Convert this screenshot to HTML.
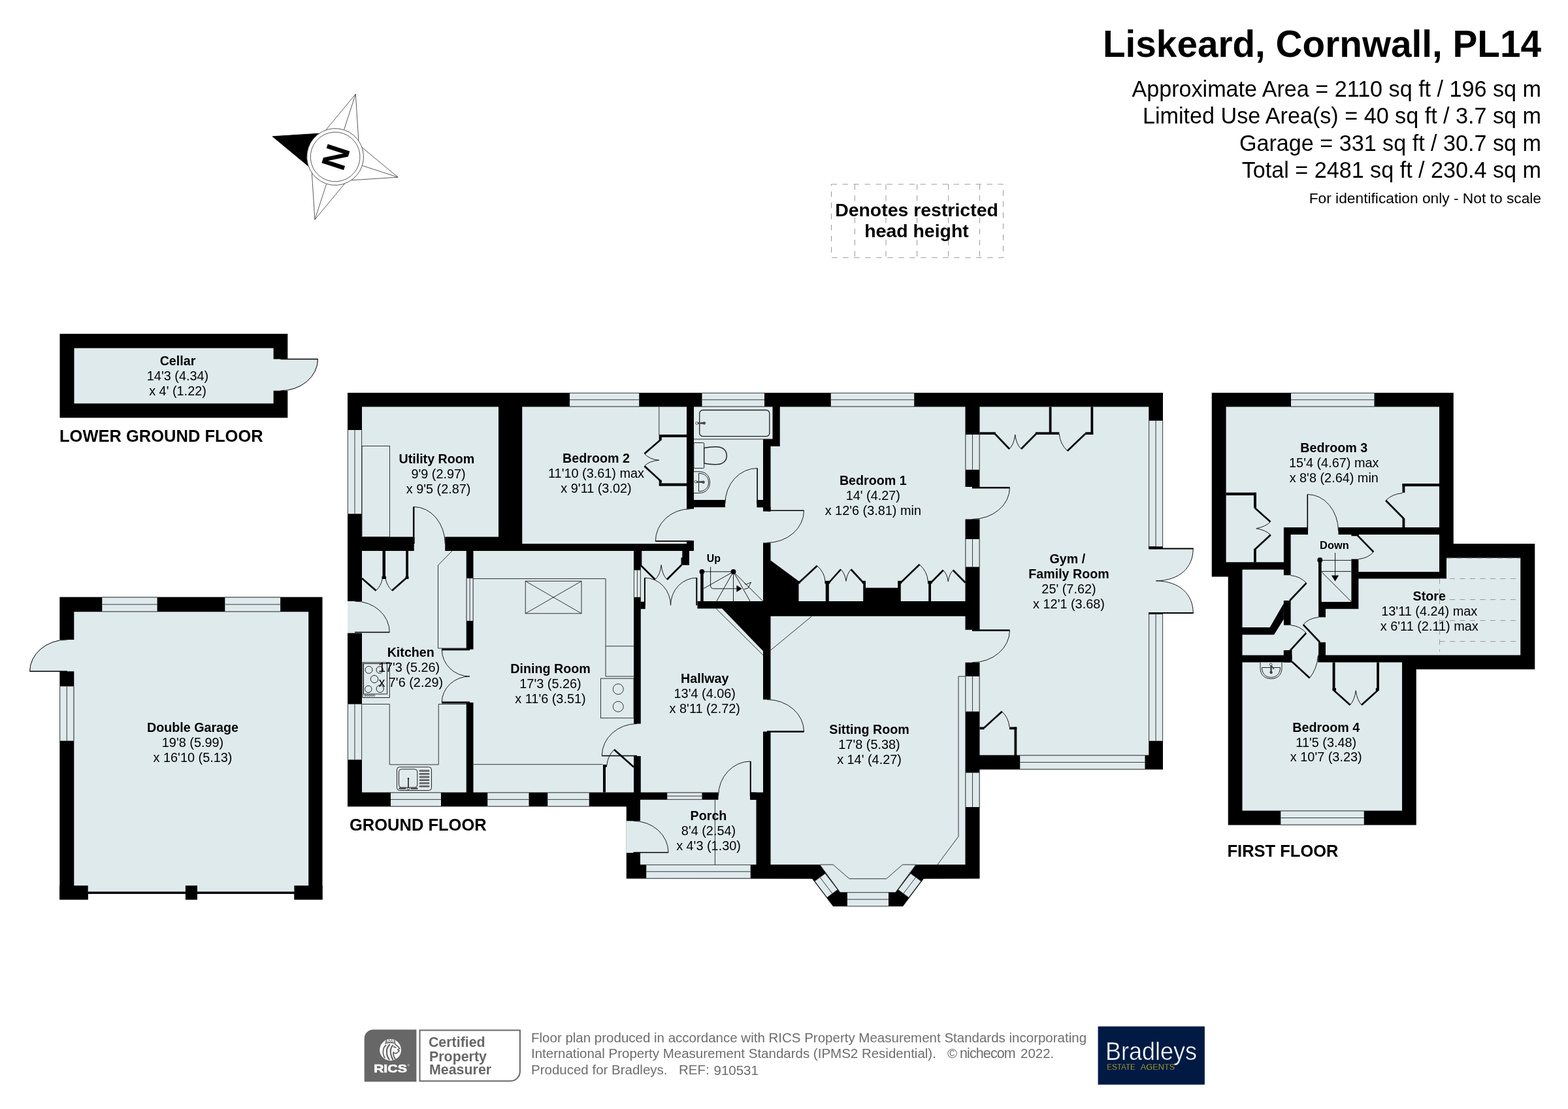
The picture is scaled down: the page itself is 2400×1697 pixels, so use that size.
<!DOCTYPE html>
<html lang="en"><head><meta charset="utf-8"><title>Floor plan - Liskeard, Cornwall, PL14</title>
<style>
html,body{margin:0;padding:0;background:#fff;}
body{width:2400px;height:1697px;overflow:hidden;}
svg{display:block;will-change:transform;font-family:"Liberation Sans",sans-serif;}
</style></head><body>
<svg width="2400" height="1697" viewBox="0 0 2400 1697">
<rect width="2400" height="1697" fill="#fff"/>
<!-- part_head -->
<text x="2359" y="87" font-size="56.7" font-weight="bold" text-anchor="end" fill="#000">Liskeard, Cornwall, PL14</text>
<text x="2359" y="148" font-size="34.15" text-anchor="end" fill="#000">Approximate Area = 2110 sq ft / 196 sq m</text>
<text x="2359" y="189.4" font-size="34.15" text-anchor="end" fill="#000">Limited Use Area(s) = 40 sq ft / 3.7 sq m</text>
<text x="2359" y="230.8" font-size="34.15" text-anchor="end" fill="#000">Garage = 331 sq ft / 30.7 sq m</text>
<text x="2359" y="272.2" font-size="34.15" text-anchor="end" fill="#000">Total = 2481 sq ft / 230.4 sq m</text>
<text x="2359" y="311" font-size="22.75" text-anchor="end" fill="#000">For identification only - Not to scale</text>
<g transform="translate(513.1,240) rotate(-72)">
<polygon transform="rotate(0)" points="0,-101 26.42,-34.43 0,0 -26.42,-34.43" fill="#000" stroke="#000" stroke-width="0.8"/>
<g transform="rotate(90)" fill="none" stroke="#444" stroke-width="0.8"><polyline points="26.42,-34.43 0,-101 -26.42,-34.43"/><line x1="0" y1="-101" x2="0" y2="-43.4"/></g>
<g transform="rotate(180)" fill="none" stroke="#444" stroke-width="0.8"><polyline points="26.42,-34.43 0,-101 -26.42,-34.43"/><line x1="0" y1="-101" x2="0" y2="-43.4"/></g>
<g transform="rotate(270)" fill="none" stroke="#444" stroke-width="0.8"><polyline points="26.42,-34.43 0,-101 -26.42,-34.43"/><line x1="0" y1="-101" x2="0" y2="-43.4"/></g>
<circle r="43.4" fill="#fff" stroke="#444" stroke-width="0.8"/>
<circle r="37.9" fill="#fff" stroke="#444" stroke-width="0.8"/>
<text x="0" y="18.5" font-size="51.5" font-weight="bold" text-anchor="middle" fill="#000">N</text>
</g>
<rect x="1272.5" y="282" width="263" height="112.2" fill="none" stroke="#999" stroke-width="1" stroke-dasharray="8.5,8.5"/>
<line x1="1308.3" y1="282" x2="1308.3" y2="394.2" stroke="#999" stroke-width="1" stroke-dasharray="8.5,8.5"/>
<line x1="1356" y1="282" x2="1356" y2="394.2" stroke="#999" stroke-width="1" stroke-dasharray="8.5,8.5"/>
<line x1="1403.6" y1="282" x2="1403.6" y2="394.2" stroke="#999" stroke-width="1" stroke-dasharray="8.5,8.5"/>
<line x1="1451.6" y1="282" x2="1451.6" y2="394.2" stroke="#999" stroke-width="1" stroke-dasharray="8.5,8.5"/>
<line x1="1499.5" y1="282" x2="1499.5" y2="394.2" stroke="#999" stroke-width="1" stroke-dasharray="8.5,8.5"/>
<text x="1403" y="331.2" font-size="28.45" font-weight="bold" text-anchor="middle" fill="#000">Denotes restricted</text>
<text x="1403" y="363" font-size="28.45" font-weight="bold" text-anchor="middle" fill="#000">head height</text>
<!-- part_small -->
<path d="M429.5,549.5 L486.4,549.5 A56.9,48.3 0 0 1 429.5,597.8 Z" fill="#dfeaed" stroke="none"/>
<path d="M486.4,549.5 A56.9,48.3 0 0 1 429.5,597.8" fill="none" stroke="#1a1a1a" stroke-width="1"/>
<line x1="429.5" y1="549.5" x2="486.4" y2="549.5" stroke="#000" stroke-width="1.2"/>
<rect x="91.5" y="510.8" width="348.8" height="128.5" fill="#000"/>
<rect x="113.5" y="532.7" width="305.1" height="84.7" fill="#dfeaed"/>
<rect x="417" y="549.5" width="24.5" height="48.3" fill="#dfeaed"/>
<path d="M429.5,549.5 L486.4,549.5 A56.9,48.3 0 0 1 429.5,597.8 Z" fill="#dfeaed" stroke="none"/>
<path d="M486.4,549.5 A56.9,48.3 0 0 1 429.5,597.8" fill="none" stroke="#1a1a1a" stroke-width="1"/>
<line x1="429.5" y1="549.5" x2="486.4" y2="549.5" stroke="#000" stroke-width="1.6"/>
<text x="272" y="559.1" font-size="19.7" font-weight="bold" text-anchor="middle" fill="#000">Cellar</text>
<text x="272" y="581.9" font-size="19.87" text-anchor="middle" fill="#000">14'3 (4.34)</text>
<text x="272" y="604.7" font-size="19.87" text-anchor="middle" fill="#000">x 4' (1.22)</text>
<text x="91" y="675.8" font-size="25.5" font-weight="bold" text-anchor="start" fill="#000">LOWER GROUND FLOOR</text>
<path d="M102.9,1027.3 L45.7,1027.3 A57.2,48.4 0 0 1 102.9,978.9 Z" fill="#dfeaed" stroke="none"/>
<path d="M45.7,1027.3 A57.2,48.4 0 0 1 102.9,978.9" fill="none" stroke="#1a1a1a" stroke-width="1"/>
<line x1="102.9" y1="1027.3" x2="45.7" y2="1027.3" stroke="#000" stroke-width="1.2"/>
<rect x="91.3" y="913.6" width="402.2" height="462.9" fill="#000"/>
<rect x="113.3" y="936.2" width="358.9" height="429.8" fill="#dfeaed"/>
<rect x="134.6" y="1367.6" width="149.4" height="10" fill="#fff"/>
<rect x="301.8" y="1367.6" width="148.7" height="10" fill="#fff"/>
<rect x="134.6" y="1355.1" width="149.4" height="9.5" fill="#dfeaed"/>
<rect x="301.8" y="1355.1" width="148.7" height="9.5" fill="#dfeaed"/>
<rect x="134.6" y="1364.4" width="149.4" height="3.3" fill="#000"/>
<rect x="301.8" y="1364.4" width="148.7" height="3.3" fill="#000"/>
<rect x="283.9" y="1355.1" width="18.1" height="21.4" fill="#000"/>
<rect x="91.3" y="1355.1" width="43.4" height="21.4" fill="#000"/>
<rect x="450.4" y="1355.1" width="43.1" height="21.4" fill="#000"/>
<rect x="156.3" y="913.6" width="84.3" height="22.6" fill="#dfeaed"/>
<line x1="156.3" y1="914" x2="240.6" y2="914" stroke="#3a3a3a" stroke-width="1"/>
<line x1="156.3" y1="924.9" x2="240.6" y2="924.9" stroke="#3a3a3a" stroke-width="1"/>
<line x1="156.3" y1="935.8" x2="240.6" y2="935.8" stroke="#3a3a3a" stroke-width="1"/>
<rect x="344.3" y="913.6" width="84.8" height="22.6" fill="#dfeaed"/>
<line x1="344.3" y1="914" x2="429.1" y2="914" stroke="#3a3a3a" stroke-width="1"/>
<line x1="344.3" y1="924.9" x2="429.1" y2="924.9" stroke="#3a3a3a" stroke-width="1"/>
<line x1="344.3" y1="935.8" x2="429.1" y2="935.8" stroke="#3a3a3a" stroke-width="1"/>
<rect x="91.3" y="1050.3" width="22" height="83.3" fill="#dfeaed"/>
<line x1="91.7" y1="1050.3" x2="91.7" y2="1133.6" stroke="#3a3a3a" stroke-width="1"/>
<line x1="102.3" y1="1050.3" x2="102.3" y2="1133.6" stroke="#3a3a3a" stroke-width="1"/>
<line x1="112.9" y1="1050.3" x2="112.9" y2="1133.6" stroke="#3a3a3a" stroke-width="1"/>
<rect x="90.8" y="978.9" width="24" height="48.4" fill="#dfeaed"/>
<path d="M102.9,1027.3 L45.7,1027.3 A57.2,48.4 0 0 1 102.9,978.9 Z" fill="#dfeaed" stroke="none"/>
<path d="M45.7,1027.3 A57.2,48.4 0 0 1 102.9,978.9" fill="none" stroke="#1a1a1a" stroke-width="1"/>
<line x1="102.9" y1="1027.3" x2="45.7" y2="1027.3" stroke="#000" stroke-width="1.6"/>
<text x="295" y="1120.4" font-size="19.7" font-weight="bold" text-anchor="middle" fill="#000">Double Garage</text>
<text x="295" y="1143.2" font-size="19.87" text-anchor="middle" fill="#000">19'8 (5.99)</text>
<text x="295" y="1166" font-size="19.87" text-anchor="middle" fill="#000">x 16'10 (5.13)</text>
<!-- part_ground -->
<path d="M1769,840 L1826.2,840 C1826.2,868 1806,888.5 1769,888.7 C1806,889 1826.2,910 1826.2,937.5 L1769,937.5 Z" fill="#dfeaed"/>
<polygon points="532,601 1780,601 1780,1177.5 1499.5,1177.5 1499.5,1344.5 1413.8,1344.7 1382,1387.1 1275.1,1387.1 1243.1,1344.7 958.75,1344.5 958.75,1234.25 532,1234.25" fill="#000"/>
<rect x="554" y="622.5" width="209" height="199" fill="#dfeaed"/>
<rect x="799.25" y="622.5" width="251.75" height="209.5" fill="#dfeaed"/>
<polygon points="1062,622.5 1182.5,622.5 1182.5,672 1168,672 1168,765 1062,765" fill="#dfeaed"/>
<polygon points="1193.75,622.5 1477.5,622.5 1477.5,920 1222.5,920 1222.5,889.25 1179.5,857.5 1179.5,683 1193.75,683" fill="#dfeaed"/>
<rect x="1499.5" y="622.5" width="258.75" height="533" fill="#dfeaed"/>
<rect x="554" y="843" width="159.75" height="369.5" fill="#dfeaed"/>
<rect x="724.5" y="843" width="245.5" height="369.5" fill="#dfeaed"/>
<polygon points="980.75,843 1062,843 1062,776.25 1168,776.25 1168,1212.5 980.75,1212.5" fill="#dfeaed"/>
<polygon points="1179.5,943 1477.5,943 1477.5,1323 1402,1323 1370.9,1365.3 1285.75,1365.3 1254.8,1323 1179.5,1323" fill="#dfeaed"/>
<rect x="980" y="1223.75" width="177.5" height="99.25" fill="#dfeaed"/>
<rect x="1321.25" y="899.5" width="57.5" height="20.5" fill="#000"/>
<rect x="1066" y="920" width="102" height="11.25" fill="#000"/>
<polygon points="1105,931 1168,931 1168,996.25" fill="#000"/>
<rect x="633.75" y="820" width="47.5" height="24.5" fill="#dfeaed"/>
<rect x="532" y="920" width="23.5" height="48.75" fill="#dfeaed"/>
<rect x="712.25" y="993.75" width="13.75" height="81.25" fill="#dfeaed"/>
<rect x="968.5" y="1107.5" width="13.75" height="49.5" fill="#dfeaed"/>
<rect x="1049.5" y="778.75" width="14" height="48.75" fill="#dfeaed"/>
<rect x="1110" y="763.5" width="48.75" height="14.25" fill="#dfeaed"/>
<rect x="1166.5" y="782.5" width="14.5" height="48" fill="#dfeaed"/>
<rect x="1476" y="745" width="25" height="49.5" fill="#dfeaed"/>
<rect x="1476" y="963.75" width="25" height="50" fill="#dfeaed"/>
<rect x="1166.5" y="1070.5" width="14.5" height="49" fill="#dfeaed"/>
<rect x="1099.5" y="1211" width="49.25" height="14.25" fill="#dfeaed"/>
<rect x="958.75" y="1256.25" width="22.75" height="48.75" fill="#dfeaed"/>
<rect x="1756.75" y="840" width="24.25" height="97.5" fill="#dfeaed"/>
<rect x="987" y="918.5" width="80.5" height="14.25" fill="#dfeaed"/>
<rect x="532" y="658" width="22" height="128.25" fill="#dfeaed"/>
<line x1="532.4" y1="658" x2="532.4" y2="786.25" stroke="#3a3a3a" stroke-width="1"/>
<line x1="543" y1="658" x2="543" y2="786.25" stroke="#3a3a3a" stroke-width="1"/>
<line x1="553.6" y1="658" x2="553.6" y2="786.25" stroke="#3a3a3a" stroke-width="1"/>
<rect x="532" y="1077.5" width="22" height="85" fill="#dfeaed"/>
<line x1="532.4" y1="1077.5" x2="532.4" y2="1162.5" stroke="#3a3a3a" stroke-width="1"/>
<line x1="543" y1="1077.5" x2="543" y2="1162.5" stroke="#3a3a3a" stroke-width="1"/>
<line x1="553.6" y1="1077.5" x2="553.6" y2="1162.5" stroke="#3a3a3a" stroke-width="1"/>
<rect x="872" y="601" width="106.25" height="21.5" fill="#dfeaed"/>
<line x1="872" y1="601.4" x2="978.25" y2="601.4" stroke="#3a3a3a" stroke-width="1"/>
<line x1="872" y1="611.75" x2="978.25" y2="611.75" stroke="#3a3a3a" stroke-width="1"/>
<line x1="872" y1="622.1" x2="978.25" y2="622.1" stroke="#3a3a3a" stroke-width="1"/>
<rect x="1074.5" y="601" width="95.5" height="21.5" fill="#dfeaed"/>
<line x1="1074.5" y1="601.4" x2="1170" y2="601.4" stroke="#3a3a3a" stroke-width="1"/>
<line x1="1074.5" y1="611.75" x2="1170" y2="611.75" stroke="#3a3a3a" stroke-width="1"/>
<line x1="1074.5" y1="622.1" x2="1170" y2="622.1" stroke="#3a3a3a" stroke-width="1"/>
<rect x="1271.75" y="601" width="127.5" height="21.5" fill="#dfeaed"/>
<line x1="1271.75" y1="601.4" x2="1399.25" y2="601.4" stroke="#3a3a3a" stroke-width="1"/>
<line x1="1271.75" y1="611.75" x2="1399.25" y2="611.75" stroke="#3a3a3a" stroke-width="1"/>
<line x1="1271.75" y1="622.1" x2="1399.25" y2="622.1" stroke="#3a3a3a" stroke-width="1"/>
<rect x="598" y="1212.5" width="77" height="21.75" fill="#dfeaed"/>
<line x1="598" y1="1212.9" x2="675" y2="1212.9" stroke="#3a3a3a" stroke-width="1"/>
<line x1="598" y1="1223.38" x2="675" y2="1223.38" stroke="#3a3a3a" stroke-width="1"/>
<line x1="598" y1="1233.85" x2="675" y2="1233.85" stroke="#3a3a3a" stroke-width="1"/>
<rect x="746.25" y="1212.5" width="63.25" height="21.75" fill="#dfeaed"/>
<line x1="746.25" y1="1212.9" x2="809.5" y2="1212.9" stroke="#3a3a3a" stroke-width="1"/>
<line x1="746.25" y1="1223.38" x2="809.5" y2="1223.38" stroke="#3a3a3a" stroke-width="1"/>
<line x1="746.25" y1="1233.85" x2="809.5" y2="1233.85" stroke="#3a3a3a" stroke-width="1"/>
<rect x="838.25" y="1212.5" width="63.5" height="21.75" fill="#dfeaed"/>
<line x1="838.25" y1="1212.9" x2="901.75" y2="1212.9" stroke="#3a3a3a" stroke-width="1"/>
<line x1="838.25" y1="1223.38" x2="901.75" y2="1223.38" stroke="#3a3a3a" stroke-width="1"/>
<line x1="838.25" y1="1233.85" x2="901.75" y2="1233.85" stroke="#3a3a3a" stroke-width="1"/>
<rect x="1021.25" y="1212.5" width="53.25" height="11.25" fill="#dfeaed"/>
<line x1="1021.25" y1="1212.9" x2="1074.5" y2="1212.9" stroke="#3a3a3a" stroke-width="1"/>
<line x1="1021.25" y1="1218.12" x2="1074.5" y2="1218.12" stroke="#3a3a3a" stroke-width="1"/>
<line x1="1021.25" y1="1223.35" x2="1074.5" y2="1223.35" stroke="#3a3a3a" stroke-width="1"/>
<rect x="989.25" y="1323" width="159.5" height="21.5" fill="#dfeaed"/>
<line x1="989.25" y1="1323.4" x2="1148.75" y2="1323.4" stroke="#3a3a3a" stroke-width="1"/>
<line x1="989.25" y1="1333.75" x2="1148.75" y2="1333.75" stroke="#3a3a3a" stroke-width="1"/>
<line x1="989.25" y1="1344.1" x2="1148.75" y2="1344.1" stroke="#3a3a3a" stroke-width="1"/>
<rect x="1477.5" y="1035" width="22" height="53.75" fill="#dfeaed"/>
<line x1="1477.9" y1="1035" x2="1477.9" y2="1088.75" stroke="#3a3a3a" stroke-width="1"/>
<line x1="1488.5" y1="1035" x2="1488.5" y2="1088.75" stroke="#3a3a3a" stroke-width="1"/>
<line x1="1499.1" y1="1035" x2="1499.1" y2="1088.75" stroke="#3a3a3a" stroke-width="1"/>
<rect x="1477.5" y="1182.5" width="22" height="52.5" fill="#dfeaed"/>
<line x1="1477.9" y1="1182.5" x2="1477.9" y2="1235" stroke="#3a3a3a" stroke-width="1"/>
<line x1="1488.5" y1="1182.5" x2="1488.5" y2="1235" stroke="#3a3a3a" stroke-width="1"/>
<line x1="1499.1" y1="1182.5" x2="1499.1" y2="1235" stroke="#3a3a3a" stroke-width="1"/>
<rect x="1477.5" y="665" width="22" height="53.75" fill="#dfeaed"/>
<line x1="1477.9" y1="665" x2="1477.9" y2="718.75" stroke="#3a3a3a" stroke-width="1"/>
<line x1="1488.5" y1="665" x2="1488.5" y2="718.75" stroke="#3a3a3a" stroke-width="1"/>
<line x1="1499.1" y1="665" x2="1499.1" y2="718.75" stroke="#3a3a3a" stroke-width="1"/>
<rect x="1477.5" y="825" width="22" height="42.5" fill="#dfeaed"/>
<line x1="1477.9" y1="825" x2="1477.9" y2="867.5" stroke="#3a3a3a" stroke-width="1"/>
<line x1="1488.5" y1="825" x2="1488.5" y2="867.5" stroke="#3a3a3a" stroke-width="1"/>
<line x1="1499.1" y1="825" x2="1499.1" y2="867.5" stroke="#3a3a3a" stroke-width="1"/>
<rect x="1758.25" y="643.75" width="21.75" height="192.5" fill="#dfeaed"/>
<line x1="1758.65" y1="643.75" x2="1758.65" y2="836.25" stroke="#3a3a3a" stroke-width="1"/>
<line x1="1769.12" y1="643.75" x2="1769.12" y2="836.25" stroke="#3a3a3a" stroke-width="1"/>
<line x1="1779.6" y1="643.75" x2="1779.6" y2="836.25" stroke="#3a3a3a" stroke-width="1"/>
<rect x="1758.25" y="940" width="21.75" height="193.75" fill="#dfeaed"/>
<line x1="1758.65" y1="940" x2="1758.65" y2="1133.75" stroke="#3a3a3a" stroke-width="1"/>
<line x1="1769.12" y1="940" x2="1769.12" y2="1133.75" stroke="#3a3a3a" stroke-width="1"/>
<line x1="1779.6" y1="940" x2="1779.6" y2="1133.75" stroke="#3a3a3a" stroke-width="1"/>
<rect x="1561.25" y="1155.5" width="191.25" height="22" fill="#dfeaed"/>
<line x1="1561.25" y1="1155.9" x2="1752.5" y2="1155.9" stroke="#3a3a3a" stroke-width="1"/>
<line x1="1561.25" y1="1166.5" x2="1752.5" y2="1166.5" stroke="#3a3a3a" stroke-width="1"/>
<line x1="1561.25" y1="1177.1" x2="1752.5" y2="1177.1" stroke="#3a3a3a" stroke-width="1"/>
<rect x="713.75" y="885" width="10.75" height="65" fill="#dfeaed"/>
<line x1="714.15" y1="885" x2="714.15" y2="950" stroke="#3a3a3a" stroke-width="1"/>
<line x1="719.12" y1="885" x2="719.12" y2="950" stroke="#3a3a3a" stroke-width="1"/>
<line x1="724.1" y1="885" x2="724.1" y2="950" stroke="#3a3a3a" stroke-width="1"/>
<rect x="970" y="872.5" width="10.75" height="41.25" fill="#dfeaed"/>
<line x1="970.4" y1="872.5" x2="970.4" y2="913.75" stroke="#3a3a3a" stroke-width="1"/>
<line x1="975.38" y1="872.5" x2="975.38" y2="913.75" stroke="#3a3a3a" stroke-width="1"/>
<line x1="980.35" y1="872.5" x2="980.35" y2="913.75" stroke="#3a3a3a" stroke-width="1"/>
<polygon points="1263.1,1336.6 1282.1,1361.4 1265.9,1373.4 1247,1348.3" fill="#dfeaed" stroke="#333" stroke-width="1"/>
<line x1="1255.05" y1="1342.45" x2="1274" y2="1367.4" stroke="#333" stroke-width="1"/>
<polygon points="1393.7,1336.6 1374.7,1361.4 1390.9,1373.4 1409.8,1348.3" fill="#dfeaed" stroke="#333" stroke-width="1"/>
<line x1="1401.75" y1="1342.45" x2="1382.8" y2="1367.4" stroke="#333" stroke-width="1"/>
<rect x="1296.9" y="1365.3" width="63.1" height="21.8" fill="#dfeaed"/>
<line x1="1296.9" y1="1365.7" x2="1360" y2="1365.7" stroke="#3a3a3a" stroke-width="1"/>
<line x1="1296.9" y1="1376.2" x2="1360" y2="1376.2" stroke="#3a3a3a" stroke-width="1"/>
<line x1="1296.9" y1="1386.7" x2="1360" y2="1386.7" stroke="#3a3a3a" stroke-width="1"/>
<polyline points="1254.8,1323.1 1275.1,1323.1 1300.1,1344.7 1356.7,1344.7 1381.6,1323.1 1402,1323.1" fill="none" stroke="#333" stroke-width="1"/>
<line x1="1254.8" y1="1323.1" x2="1285.75" y2="1365.3" stroke="#333" stroke-width="1"/>
<line x1="1402" y1="1323.1" x2="1370.9" y2="1365.3" stroke="#333" stroke-width="1"/>
<rect x="554" y="682.5" width="42.5" height="139" fill="none" stroke="#333" stroke-width="1"/>
<polyline points="692,843 670.5,865 670.5,992 713.75,992" fill="none" stroke="#333" stroke-width="1"/>
<polyline points="554,1077.5 596.25,1077.5 596.25,1170 671.25,1170 671.25,1077.5 713.75,1077.5" fill="none" stroke="#333" stroke-width="1"/>
<polyline points="724.5,885.5 927,885.5 927,1035" fill="none" stroke="#333" stroke-width="1"/>
<line x1="724.5" y1="1169.7" x2="922.5" y2="1169.7" stroke="#333" stroke-width="1"/>
<polyline points="927,1035 970,1035" fill="none" stroke="#333" stroke-width="1"/>
<line x1="927" y1="988.75" x2="970" y2="988.75" stroke="#333" stroke-width="1"/>
<rect x="919.5" y="1038.25" width="50.5" height="60.5" fill="none" stroke="#333" stroke-width="1"/>
<circle cx="946.25" cy="1054.5" r="8" fill="none" stroke="#333" stroke-width="1"/>
<circle cx="946.25" cy="1081.25" r="8" fill="none" stroke="#333" stroke-width="1"/>
<rect x="804.25" y="889.25" width="85.75" height="49.5" fill="none" stroke="#333" stroke-width="1"/>
<line x1="804.25" y1="889.25" x2="890" y2="938.75" stroke="#333" stroke-width="1"/>
<line x1="804.25" y1="938.75" x2="890" y2="889.25" stroke="#333" stroke-width="1"/>
<polyline points="1477.5,1035 1467,1035 1467,1280 1435,1323" fill="none" stroke="#333" stroke-width="1"/>
<line x1="1242.5" y1="943" x2="1179.5" y2="995" stroke="#333" stroke-width="1"/>
<line x1="1096" y1="931.25" x2="1168" y2="1002.5" stroke="#333" stroke-width="1"/>
<line x1="1094.4" y1="1223.75" x2="1094.4" y2="1323" stroke="#333" stroke-width="1"/>
<line x1="1062" y1="672" x2="1182.5" y2="672" stroke="#333" stroke-width="1"/>
<line x1="1008.75" y1="622.5" x2="1008.75" y2="665" stroke="#333" stroke-width="1"/>
<!-- part_ground2 -->
<path d="M633.2,775.5 A48.05,56.5 0 0 1 681.25,832" fill="none" stroke="#1a1a1a" stroke-width="1"/>
<line x1="633.2" y1="832" x2="633.2" y2="775.5" stroke="#000" stroke-width="2.5"/>
<rect x="631.9" y="821.5" width="2.55" height="10.5" fill="#000"/>
<rect x="631.5" y="832" width="1.1" height="11" fill="#000"/>
<path d="M596.25,967.5 A53.25,47.5 0 0 0 543,920" fill="none" stroke="#1a1a1a" stroke-width="1"/>
<line x1="543" y1="967.5" x2="596.25" y2="967.5" stroke="#000" stroke-width="1.7"/>
<path d="M676.25,993.75 A42.75,41.25 0 0 0 719,1035" fill="none" stroke="#1a1a1a" stroke-width="1"/>
<line x1="719" y1="993.75" x2="676.25" y2="993.75" stroke="#000" stroke-width="3"/>
<path d="M676.25,1075 A42.75,40 0 0 1 719,1035" fill="none" stroke="#1a1a1a" stroke-width="1"/>
<line x1="719" y1="1075" x2="676.25" y2="1075" stroke="#000" stroke-width="3"/>
<path d="M921.25,1156.5 A53.75,49 0 0 1 975,1107.5" fill="none" stroke="#1a1a1a" stroke-width="1"/>
<line x1="975" y1="1156.5" x2="921.25" y2="1156.5" stroke="#000" stroke-width="1.7"/>
<path d="M1003.3,828.2 A53.3,49.45 0 0 1 1056.6,778.75" fill="none" stroke="#1a1a1a" stroke-width="1"/>
<line x1="1056.6" y1="828.2" x2="1003.3" y2="828.2" stroke="#000" stroke-width="1.7"/>
<rect x="1051" y="827.5" width="11" height="15.5" fill="#000"/>
<path d="M1159.1,716.5 A49.2,54 0 0 0 1109.9,770.5" fill="none" stroke="#1a1a1a" stroke-width="1"/>
<line x1="1159.1" y1="770.5" x2="1159.1" y2="716.5" stroke="#000" stroke-width="1.6"/>
<rect x="1158.5" y="765" width="10" height="11.25" fill="#000"/>
<path d="M1230.5,781.25 A56.5,49.25 0 0 1 1174,830.5" fill="none" stroke="#1a1a1a" stroke-width="1"/>
<line x1="1174" y1="781.25" x2="1230.5" y2="781.25" stroke="#000" stroke-width="1.7"/>
<rect x="1173.75" y="776" width="5.75" height="6.5" fill="#000"/>
<path d="M1545.5,746.25 A57.5,48.25 0 0 1 1488,794.5" fill="none" stroke="#1a1a1a" stroke-width="1"/>
<line x1="1488" y1="746.25" x2="1545.5" y2="746.25" stroke="#000" stroke-width="2.5"/>
<path d="M1545.5,964.5 A57.5,49.25 0 0 1 1488,1013.75" fill="none" stroke="#1a1a1a" stroke-width="1"/>
<line x1="1488" y1="964.5" x2="1545.5" y2="964.5" stroke="#000" stroke-width="2.5"/>
<path d="M1230.5,1119.5 A56.5,49 0 0 0 1174,1070.5" fill="none" stroke="#1a1a1a" stroke-width="1"/>
<line x1="1174" y1="1119.5" x2="1230.5" y2="1119.5" stroke="#000" stroke-width="2.5"/>
<path d="M1148.75,1165 A49.25,53 0 0 0 1099.5,1218" fill="none" stroke="#1a1a1a" stroke-width="1"/>
<line x1="1148.75" y1="1218" x2="1148.75" y2="1165" stroke="#000" stroke-width="2"/>
<rect x="1148" y="1212.5" width="9.5" height="11.25" fill="#000"/>
<path d="M1023,1304.5 A53.5,48.25 0 0 0 969.5,1256.25" fill="none" stroke="#1a1a1a" stroke-width="1"/>
<line x1="969.5" y1="1304.5" x2="1023" y2="1304.5" stroke="#000" stroke-width="1.7"/>
<path d="M1826.2,840 C1826.2,868 1806,888.5 1769.3,888.8" fill="none" stroke="#1a1a1a" stroke-width="1"/>
<path d="M1826.2,937.5 C1826.2,910 1806,889.2 1769.3,888.8" fill="none" stroke="#1a1a1a" stroke-width="1"/>
<line x1="1769" y1="839.6" x2="1826.7" y2="839.6" stroke="#000" stroke-width="2"/>
<line x1="1769" y1="938" x2="1826.7" y2="938" stroke="#000" stroke-width="2"/>
<rect x="1758.25" y="836.25" width="11.25" height="4.25" fill="#000"/>
<rect x="1758.25" y="937" width="11.25" height="3" fill="#000"/>
<path d="M986.9,884.2 A39.6,42.1 0 0 1 1026.5,926.3" fill="none" stroke="#1a1a1a" stroke-width="1"/>
<line x1="986.9" y1="926.3" x2="986.9" y2="884.2" stroke="#000" stroke-width="2"/>
<path d="M1066.3,884.2 A39.8,42.1 0 0 0 1026.5,926.3" fill="none" stroke="#1a1a1a" stroke-width="1"/>
<line x1="1066.3" y1="926.3" x2="1066.3" y2="884.2" stroke="#000" stroke-width="2"/>
<rect x="980.5" y="920.7" width="7.2" height="11.1" fill="#000"/>
<rect x="980.5" y="842.8" width="1.8" height="22.2" fill="#000"/>
<rect x="1044.3" y="842.8" width="10.7" height="21.7" fill="#000"/>
<rect x="1042.5" y="853.3" width="12.5" height="11.2" fill="#000"/>
<polyline points="980.8,865.1 1002.7,886.7" fill="none" stroke="#000" stroke-width="2.7" stroke-linejoin="miter"/>
<polyline points="1043.1,864.5 1020.9,886.7" fill="none" stroke="#000" stroke-width="2.7" stroke-linejoin="miter"/>
<path d="M1002.7,886.7 Q1010.5,880 1012.1,864.5" fill="none" stroke="#1a1a1a" stroke-width="1"/>
<path d="M1020.9,886.7 Q1013.7,880 1012.1,864.5" fill="none" stroke="#1a1a1a" stroke-width="1"/>
<line x1="1074.4" y1="874.8" x2="1122.5" y2="874.8" stroke="#1a1a1a" stroke-width="1"/>
<line x1="1122.5" y1="874.8" x2="1076.7" y2="900.8" stroke="#1a1a1a" stroke-width="1"/>
<line x1="1122.5" y1="874.8" x2="1096.4" y2="920.7" stroke="#1a1a1a" stroke-width="1"/>
<line x1="1122.5" y1="874.8" x2="1122.5" y2="920.7" stroke="#1a1a1a" stroke-width="1"/>
<line x1="1122.5" y1="874.8" x2="1148.5" y2="920.7" stroke="#1a1a1a" stroke-width="1"/>
<line x1="1122.5" y1="874.8" x2="1168" y2="920.3" stroke="#1a1a1a" stroke-width="1"/>
<rect x="1072.2" y="875" width="4.5" height="46" fill="#000"/>
<circle cx="1074.4" cy="874.8" r="3.9" fill="#000" stroke="#000" stroke-width="0"/>
<circle cx="1122.5" cy="874.8" r="3.9" fill="#000" stroke="#000" stroke-width="0"/>
<path d="M1087.6,867.4 L1087.6,896 Q1087.6,900.8 1092.4,900.8 L1128,900.8" fill="none" stroke="#1a1a1a" stroke-width="1"/>
<polygon points="1127.4,895.5 1127.4,906 1135.6,900.8" fill="#000"/>
<polyline points="1139,901.5 1145,900 1149.6,891 1141.5,894.5 1139.5,892.5" fill="none" stroke="#1a1a1a" stroke-width="1"/>
<text x="1092.3" y="860" font-size="15.9" font-weight="bold" text-anchor="middle" fill="#000">Up</text>
<rect x="1008.7" y="665" width="42.5" height="4.1" fill="#000"/>
<rect x="1008.7" y="669" width="4.1" height="5" fill="#000"/>
<rect x="1008.7" y="739.5" width="42.5" height="4.2" fill="#000"/>
<rect x="1008.7" y="734.6" width="4.1" height="5" fill="#000"/>
<polyline points="1010.7,673.2 986.4,694.2" fill="none" stroke="#000" stroke-width="2.7" stroke-linejoin="miter"/>
<polyline points="1010.7,735.5 986.4,713.3" fill="none" stroke="#000" stroke-width="2.7" stroke-linejoin="miter"/>
<path d="M986.4,694.2 Q994,703 1008.7,704.2" fill="none" stroke="#1a1a1a" stroke-width="1"/>
<path d="M986.4,713.3 Q993,705.5 1008.7,704.2" fill="none" stroke="#1a1a1a" stroke-width="1"/>
<rect x="1263.75" y="889.25" width="5" height="31.25" fill="#000"/>
<rect x="1262.45" y="888.8" width="7.9" height="4.4" fill="#000"/>
<rect x="1421.25" y="889.25" width="3.75" height="31.25" fill="#000"/>
<rect x="1419.95" y="888.8" width="6.65" height="4.4" fill="#000"/>
<rect x="1321.25" y="889.25" width="3.75" height="10.75" fill="#000"/>
<rect x="1374.25" y="889.25" width="4.5" height="10.75" fill="#000"/>
<rect x="1319.8" y="888.8" width="5.2" height="4.4" fill="#000"/>
<rect x="1374.25" y="888.8" width="5.75" height="4.4" fill="#000"/>
<rect x="1222" y="889" width="2.6" height="4.2" fill="#000"/>
<polyline points="1223,891.5 1250.75,865.75" fill="none" stroke="#000" stroke-width="2.6" stroke-linejoin="miter"/>
<path d="M1250.75,865.75 Q1262,876 1263,889.25" fill="none" stroke="#1a1a1a" stroke-width="1"/>
<polyline points="1268.75,891.5 1287,871.25" fill="none" stroke="#000" stroke-width="2.6" stroke-linejoin="miter"/>
<polyline points="1321.25,891.5 1302.5,871.25" fill="none" stroke="#000" stroke-width="2.6" stroke-linejoin="miter"/>
<path d="M1287,871.25 Q1293.5,878 1295,889.25" fill="none" stroke="#1a1a1a" stroke-width="1"/>
<path d="M1302.5,871.25 Q1296.5,878 1295,889.25" fill="none" stroke="#1a1a1a" stroke-width="1"/>
<polyline points="1378.75,891.5 1407.5,863.75" fill="none" stroke="#000" stroke-width="2.6" stroke-linejoin="miter"/>
<path d="M1407.5,863.75 Q1419.5,875 1420.3,889.25" fill="none" stroke="#1a1a1a" stroke-width="1"/>
<polyline points="1425,891.5 1443.75,872.5" fill="none" stroke="#000" stroke-width="2.6" stroke-linejoin="miter"/>
<polyline points="1477.5,891.5 1458.75,872.5" fill="none" stroke="#000" stroke-width="2.6" stroke-linejoin="miter"/>
<path d="M1443.75,872.5 Q1450,879 1451.25,890" fill="none" stroke="#1a1a1a" stroke-width="1"/>
<path d="M1458.75,872.5 Q1452.5,879 1451.25,890" fill="none" stroke="#1a1a1a" stroke-width="1"/>
<rect x="1499.5" y="661.25" width="24.25" height="3.75" fill="#000"/>
<rect x="1585" y="661.25" width="36.25" height="3.75" fill="#000"/>
<rect x="1661.25" y="661.25" width="12" height="3.75" fill="#000"/>
<rect x="1605.75" y="622.5" width="3.75" height="40.5" fill="#000"/>
<rect x="1669.5" y="622.5" width="3.75" height="42.5" fill="#000"/>
<polyline points="1522.5,663.5 1545,687" fill="none" stroke="#000" stroke-width="2.7" stroke-linejoin="miter"/>
<polyline points="1586.25,663.5 1563,687" fill="none" stroke="#000" stroke-width="2.7" stroke-linejoin="miter"/>
<path d="M1545,687 Q1552,680 1553.75,665" fill="none" stroke="#1a1a1a" stroke-width="1"/>
<path d="M1563,687 Q1555.5,680 1553.75,665" fill="none" stroke="#1a1a1a" stroke-width="1"/>
<polyline points="1661.25,663.75 1633.75,690" fill="none" stroke="#000" stroke-width="2.7" stroke-linejoin="miter"/>
<path d="M1633.75,690 Q1622.5,679 1621.25,664" fill="none" stroke="#1a1a1a" stroke-width="1"/>
<rect x="1499.5" y="1112.5" width="7" height="3.75" fill="#000"/>
<rect x="1545" y="1112.5" width="11.25" height="3.75" fill="#000"/>
<rect x="1552.5" y="1112.5" width="3.75" height="43.75" fill="#000"/>
<polyline points="1506.25,1113.75 1533.75,1088.75" fill="none" stroke="#000" stroke-width="2.7" stroke-linejoin="miter"/>
<path d="M1533.75,1088.75 Q1544,1099 1545,1112.5" fill="none" stroke="#1a1a1a" stroke-width="1"/>
<rect x="585.5" y="843" width="4.5" height="42" fill="#000"/>
<rect x="621.25" y="843" width="3.75" height="42" fill="#000"/>
<rect x="584.5" y="882" width="6.5" height="4" fill="#000"/>
<rect x="620.5" y="882" width="5" height="4" fill="#000"/>
<polyline points="554,885 575.5,903.75" fill="none" stroke="#000" stroke-width="2.7" stroke-linejoin="miter"/>
<polyline points="621.25,885 600,903.75" fill="none" stroke="#000" stroke-width="2.7" stroke-linejoin="miter"/>
<path d="M575.5,903.75 Q583.5,896 585.5,885" fill="none" stroke="#1a1a1a" stroke-width="1"/>
<path d="M600,903.75 Q592,896 590,885" fill="none" stroke="#1a1a1a" stroke-width="1"/>
<rect x="923" y="1170" width="4" height="42.5" fill="#000"/>
<rect x="923" y="1170" width="5.8" height="3.8" fill="#000"/>
<polyline points="970,1173.75 940,1147" fill="none" stroke="#000" stroke-width="2.7" stroke-linejoin="miter"/>
<path d="M940,1147 Q930,1157 928.75,1171.25" fill="none" stroke="#1a1a1a" stroke-width="1"/>
<rect x="1070.7" y="627.5" width="107.1" height="40.2" fill="none" stroke="#222" stroke-width="1.3" rx="5"/>
<path d="M1065.5,647.5 h11" fill="none" stroke="#555" stroke-width="3"/>
<circle cx="1066.5" cy="647.5" r="1.8" fill="#fff" stroke="#222" stroke-width="0.8"/>
<circle cx="1077.8" cy="647.5" r="1.8" fill="#555" stroke="#222" stroke-width="0.8"/>
<rect x="1061.9" y="677.5" width="15.8" height="39" fill="#dfeaed" stroke="#222" stroke-width="1" rx="1.5"/>
<path d="M1077.7,685.5 Q1087,683.3 1098,683.8 C1108,684.5 1112.3,690.5 1112.3,697.2 C1112.3,704 1108,710 1098,710.6 Q1087,711 1077.7,709 Z" fill="#dfeaed" stroke="#222" stroke-width="1.5"/>
<path d="M1061.9,721.7 L1070,721.7 C1081,721.7 1086.5,729 1086.5,738.1 C1086.5,747 1081,754.5 1070,754.5 L1061.9,754.5" fill="#dfeaed" stroke="#222" stroke-width="1"/>
<path d="M1069.5,724.3 C1079.5,724.3 1084.6,730.5 1084.6,738.1 C1084.6,745.5 1079.5,752 1069.5,752 Z" fill="#dfeaed" stroke="#222" stroke-width="1"/>
<path d="M1064.5,737.5 h11" fill="none" stroke="#555" stroke-width="3"/>
<circle cx="1064.8" cy="737.2" r="1.7" fill="#fff" stroke="#222" stroke-width="0.8"/>
<circle cx="1076.5" cy="737.8" r="1.8" fill="#555" stroke="#222" stroke-width="0.8"/>
<rect x="555" y="1013.75" width="41.25" height="53.75" fill="#dfeaed" stroke="#222" stroke-width="1"/>
<rect x="556.5" y="1015.5" width="36" height="46.5" fill="none" stroke="#222" stroke-width="1"/>
<circle cx="564.5" cy="1025" r="5.5" fill="none" stroke="#222" stroke-width="1"/>
<circle cx="581.2" cy="1025" r="5.2" fill="none" stroke="#222" stroke-width="1"/>
<circle cx="573" cy="1039.2" r="5.7" fill="none" stroke="#222" stroke-width="1"/>
<circle cx="563.8" cy="1054.5" r="5.2" fill="none" stroke="#222" stroke-width="1"/>
<circle cx="581.7" cy="1054" r="5.6" fill="none" stroke="#222" stroke-width="1"/>
<circle cx="559" cy="1064.3" r="1.2" fill="none" stroke="#222" stroke-width="0.7"/>
<circle cx="562.4" cy="1064.3" r="1.2" fill="none" stroke="#222" stroke-width="0.7"/>
<circle cx="565.8" cy="1064.3" r="1.2" fill="none" stroke="#222" stroke-width="0.7"/>
<circle cx="569.2" cy="1064.3" r="1.2" fill="none" stroke="#222" stroke-width="0.7"/>
<circle cx="572.6" cy="1064.3" r="1.2" fill="none" stroke="#222" stroke-width="0.7"/>
<rect x="607.5" y="1173.75" width="53" height="35.75" fill="#dfeaed" stroke="#222" stroke-width="1" rx="4"/>
<rect x="610.5" y="1177" width="28.25" height="28" fill="none" stroke="#222" stroke-width="1" rx="4"/>
<line x1="643" y1="1179.5" x2="656" y2="1179.5" stroke="#333" stroke-width="2.6" stroke-linecap="round"/>
<line x1="643" y1="1179.5" x2="656" y2="1179.5" stroke="#888" stroke-width="1.2" stroke-linecap="round"/>
<line x1="643" y1="1184.25" x2="656" y2="1184.25" stroke="#333" stroke-width="2.6" stroke-linecap="round"/>
<line x1="643" y1="1184.25" x2="656" y2="1184.25" stroke="#888" stroke-width="1.2" stroke-linecap="round"/>
<line x1="643" y1="1189" x2="656" y2="1189" stroke="#333" stroke-width="2.6" stroke-linecap="round"/>
<line x1="643" y1="1189" x2="656" y2="1189" stroke="#888" stroke-width="1.2" stroke-linecap="round"/>
<line x1="643" y1="1193.75" x2="656" y2="1193.75" stroke="#333" stroke-width="2.6" stroke-linecap="round"/>
<line x1="643" y1="1193.75" x2="656" y2="1193.75" stroke="#888" stroke-width="1.2" stroke-linecap="round"/>
<line x1="643" y1="1198.5" x2="656" y2="1198.5" stroke="#333" stroke-width="2.6" stroke-linecap="round"/>
<line x1="643" y1="1198.5" x2="656" y2="1198.5" stroke="#888" stroke-width="1.2" stroke-linecap="round"/>
<line x1="643" y1="1203.25" x2="656" y2="1203.25" stroke="#333" stroke-width="2.6" stroke-linecap="round"/>
<line x1="643" y1="1203.25" x2="656" y2="1203.25" stroke="#888" stroke-width="1.2" stroke-linecap="round"/>
<line x1="625" y1="1191.5" x2="625" y2="1206.5" stroke="#222" stroke-width="1.6"/>
<circle cx="625" cy="1191.2" r="1.2" fill="#222" stroke="#222" stroke-width="0"/>
<circle cx="625" cy="1207" r="1.6" fill="#fff" stroke="#222" stroke-width="0.8"/>
<path d="M611.5,1206.5 h9 M629.5,1206.5 h9" fill="none" stroke="#444" stroke-width="2.4" stroke-linecap="round"/>
<text x="668.4" y="708.5" font-size="19.7" font-weight="bold" text-anchor="middle" fill="#000">Utility Room</text>
<text x="671.1" y="731.5" font-size="19.87" text-anchor="middle" fill="#000">9'9 (2.97)</text>
<text x="671.1" y="754.5" font-size="19.87" text-anchor="middle" fill="#000">x 9'5 (2.87)</text>
<text x="912.5" y="707.5" font-size="19.7" font-weight="bold" text-anchor="middle" fill="#000">Bedroom 2</text>
<text x="912.5" y="730.5" font-size="19.87" text-anchor="middle" fill="#000">11'10 (3.61) max</text>
<text x="912.5" y="753.5" font-size="19.87" text-anchor="middle" fill="#000">x 9'11 (3.02)</text>
<text x="1336.3" y="742" font-size="19.7" font-weight="bold" text-anchor="middle" fill="#000">Bedroom 1</text>
<text x="1336.3" y="765" font-size="19.87" text-anchor="middle" fill="#000">14' (4.27)</text>
<text x="1336.3" y="788" font-size="19.87" text-anchor="middle" fill="#000">x 12'6 (3.81) min</text>
<text x="1633.75" y="861.75" font-size="19.7" font-weight="bold" text-anchor="middle" fill="#000">Gym /</text>
<text x="1636" y="885" font-size="19.7" font-weight="bold" text-anchor="middle" fill="#000">Family Room</text>
<text x="1636" y="908.1" font-size="19.87" text-anchor="middle" fill="#000">25' (7.62)</text>
<text x="1636" y="931.2" font-size="19.87" text-anchor="middle" fill="#000">x 12'1 (3.68)</text>
<text x="628.75" y="1005" font-size="19.7" font-weight="bold" text-anchor="middle" fill="#000">Kitchen</text>
<text x="626.05" y="1028" font-size="19.87" text-anchor="middle" fill="#000">17'3 (5.26)</text>
<text x="628.75" y="1051" font-size="19.87" text-anchor="middle" fill="#000">x 7'6 (2.29)</text>
<text x="842.5" y="1030" font-size="19.7" font-weight="bold" text-anchor="middle" fill="#000">Dining Room</text>
<text x="842.5" y="1053" font-size="19.87" text-anchor="middle" fill="#000">17'3 (5.26)</text>
<text x="842.5" y="1076" font-size="19.87" text-anchor="middle" fill="#000">x 11'6 (3.51)</text>
<text x="1078.75" y="1045" font-size="19.7" font-weight="bold" text-anchor="middle" fill="#000">Hallway</text>
<text x="1078.75" y="1068" font-size="19.87" text-anchor="middle" fill="#000">13'4 (4.06)</text>
<text x="1078.75" y="1091" font-size="19.87" text-anchor="middle" fill="#000">x 8'11 (2.72)</text>
<text x="1330.5" y="1123" font-size="19.7" font-weight="bold" text-anchor="middle" fill="#000">Sitting Room</text>
<text x="1330.5" y="1146" font-size="19.87" text-anchor="middle" fill="#000">17'8 (5.38)</text>
<text x="1330.5" y="1169" font-size="19.87" text-anchor="middle" fill="#000">x 14' (4.27)</text>
<text x="1084.5" y="1254.5" font-size="19.7" font-weight="bold" text-anchor="middle" fill="#000">Porch</text>
<text x="1084.5" y="1277.5" font-size="19.87" text-anchor="middle" fill="#000">8'4 (2.54)</text>
<text x="1084.5" y="1300.5" font-size="19.87" text-anchor="middle" fill="#000">x 4'3 (1.30)</text>
<text x="535" y="1271.25" font-size="25.5" font-weight="bold" text-anchor="start" fill="#000">GROUND FLOOR</text>
<!-- part_first -->
<polygon points="1854.75,601 2224.75,601 2224.75,832 2349.25,832 2349.25,1024.25 2167.75,1024.25 2167.75,1262.5 1879.75,1262.5 1879.75,882.5 1854.75,882.5" fill="#000"/>
<polygon points="1876.6,622.5 2203,622.5 2203,807 1964.9,807 1964.9,860.3 1876.6,860.3" fill="#dfeaed"/>
<polygon points="1975.6,818 2203,818 2203,875 2079.4,875 2079.4,855.5 2068.4,855.5 2068.4,921 2018.1,921 2018.1,1002.6 1975.6,1002.6" fill="#dfeaed"/>
<polygon points="2029,931.8 2079.4,931.8 2079.4,885.5 2214,885.5 2214,853.75 2327.25,853.75 2327.25,1002.6 2029,1002.6" fill="#dfeaed"/>
<rect x="1901.5" y="1013.5" width="244.5" height="227" fill="#dfeaed"/>
<rect x="1901.5" y="871.6" width="63.4" height="131" fill="#dfeaed"/>
<polygon points="1964.9,923.3 1964.9,947.4 1950.05,971.2 1901,971.2 1901,960.1 1943.7,960.1" fill="#000"/>
<rect x="2001.8" y="805.5" width="46.7" height="14" fill="#dfeaed"/>
<rect x="1963.4" y="880.2" width="13.6" height="38.8" fill="#dfeaed"/>
<rect x="1963.4" y="956.6" width="13.6" height="39.6" fill="#dfeaed"/>
<rect x="2016.6" y="944.5" width="13.9" height="38.3" fill="#dfeaed"/>
<rect x="1977.3" y="1001" width="40" height="14" fill="#dfeaed"/>
<rect x="1976" y="601" width="127.5" height="21.5" fill="#dfeaed"/>
<line x1="1976" y1="601.4" x2="2103.5" y2="601.4" stroke="#3a3a3a" stroke-width="1"/>
<line x1="1976" y1="611.75" x2="2103.5" y2="611.75" stroke="#3a3a3a" stroke-width="1"/>
<line x1="1976" y1="622.1" x2="2103.5" y2="622.1" stroke="#3a3a3a" stroke-width="1"/>
<rect x="1960.25" y="1240.5" width="127.5" height="22" fill="#dfeaed"/>
<line x1="1960.25" y1="1240.9" x2="2087.75" y2="1240.9" stroke="#3a3a3a" stroke-width="1"/>
<line x1="1960.25" y1="1251.5" x2="2087.75" y2="1251.5" stroke="#3a3a3a" stroke-width="1"/>
<line x1="1960.25" y1="1262.1" x2="2087.75" y2="1262.1" stroke="#3a3a3a" stroke-width="1"/>
<line x1="2203.5" y1="885.5" x2="2203.5" y2="997" stroke="#999" stroke-width="1" stroke-dasharray="8,7.5"/>
<line x1="2203.5" y1="885.5" x2="2327.25" y2="885.5" stroke="#999" stroke-width="1" stroke-dasharray="8,7.5"/>
<line x1="2203.5" y1="917.5" x2="2327.25" y2="917.5" stroke="#999" stroke-width="1" stroke-dasharray="8,7.5"/>
<line x1="2203.5" y1="949.5" x2="2327.25" y2="949.5" stroke="#999" stroke-width="1" stroke-dasharray="8,7.5"/>
<line x1="2203.5" y1="981.5" x2="2327.25" y2="981.5" stroke="#999" stroke-width="1" stroke-dasharray="8,7.5"/>
<line x1="2214" y1="854.2" x2="2327.25" y2="854.2" stroke="#999" stroke-width="1" stroke-dasharray="8,7.5"/>
<line x1="2020" y1="857.4" x2="2068.4" y2="857.4" stroke="#1a1a1a" stroke-width="1"/>
<line x1="2022.7" y1="874.4" x2="2068.4" y2="874.4" stroke="#1a1a1a" stroke-width="1"/>
<line x1="2022.7" y1="875.1" x2="2068.4" y2="920.7" stroke="#1a1a1a" stroke-width="1"/>
<rect x="2018.05" y="857" width="4.65" height="64.5" fill="#000"/>
<circle cx="2020.3" cy="857.1" r="4" fill="#000" stroke="#000" stroke-width="0"/>
<line x1="2043.6" y1="846" x2="2043.6" y2="882" stroke="#1a1a1a" stroke-width="1"/>
<polygon points="2037.9,880.5 2049.2,880.5 2043.6,889.5" fill="#000"/>
<text x="2042.4" y="840.4" font-size="16.4" font-weight="bold" text-anchor="middle" fill="#000">Down</text>
<path d="M2001.3,756.5 A47.2,56 0 0 1 2048.5,812.5" fill="none" stroke="#1a1a1a" stroke-width="1"/>
<line x1="2001.3" y1="812.5" x2="2001.3" y2="756.5" stroke="#000" stroke-width="1.6"/>
<rect x="1999.6" y="807.1" width="2.3" height="11" fill="#000"/>
<rect x="1876.6" y="753.75" width="46.4" height="4.25" fill="#000"/>
<rect x="1919" y="753.75" width="4" height="23.75" fill="#000"/>
<rect x="1919" y="839.7" width="3.8" height="20.6" fill="#000"/>
<polyline points="1921,777.5 1944.5,798.5" fill="none" stroke="#000" stroke-width="2.7" stroke-linejoin="miter"/>
<polyline points="1921,840.4 1944.8,818.4" fill="none" stroke="#000" stroke-width="2.7" stroke-linejoin="miter"/>
<path d="M1944.5,798.5 Q1937,806 1922.8,808.7" fill="none" stroke="#1a1a1a" stroke-width="1"/>
<path d="M1944.8,818.4 Q1937,811 1922.8,808.7" fill="none" stroke="#1a1a1a" stroke-width="1"/>
<rect x="2146.5" y="740" width="56.5" height="4.2" fill="#000"/>
<rect x="2146.5" y="740" width="3.8" height="14" fill="#000"/>
<rect x="2146.5" y="793" width="3.8" height="14.2" fill="#000"/>
<polyline points="2148.5,793.5 2121,765.8" fill="none" stroke="#000" stroke-width="2.7" stroke-linejoin="miter"/>
<path d="M2121,765.8 Q2131,756 2146.5,754.5" fill="none" stroke="#1a1a1a" stroke-width="1"/>
<rect x="2068.4" y="818" width="11.3" height="2.2" fill="#000"/>
<polyline points="2077.6,819.1 2102.4,844.6" fill="none" stroke="#000" stroke-width="2.7" stroke-linejoin="miter"/>
<path d="M2102.4,844.6 Q2094,854 2079.7,855.5" fill="none" stroke="#1a1a1a" stroke-width="1"/>
<polyline points="1974.1,919 1999.6,892.1" fill="none" stroke="#000" stroke-width="2.7" stroke-linejoin="miter"/>
<path d="M1999.6,892.1 Q1990,882 1975.55,880.5" fill="none" stroke="#1a1a1a" stroke-width="1"/>
<polyline points="1974.1,996.2 1999.2,968.6" fill="none" stroke="#000" stroke-width="2.7" stroke-linejoin="miter"/>
<path d="M1999.2,968.6 Q1990,958 1975.55,956.6" fill="none" stroke="#1a1a1a" stroke-width="1"/>
<rect x="1964.9" y="995" width="12.6" height="18.5" fill="#000"/>
<polyline points="2020.2,982.8 1994.7,955.9" fill="none" stroke="#000" stroke-width="2.7" stroke-linejoin="miter"/>
<path d="M1994.7,955.9 Q2003,946 2018.05,944.5" fill="none" stroke="#1a1a1a" stroke-width="1"/>
<polyline points="1977.5,1012.5 2004.6,1037.5" fill="none" stroke="#000" stroke-width="2.7" stroke-linejoin="miter"/>
<path d="M2004.6,1037.5 Q2016,1023 2017.3,1004" fill="none" stroke="#1a1a1a" stroke-width="1"/>
<rect x="2039.6" y="1013.5" width="3.9" height="43" fill="#000"/>
<rect x="2107.2" y="1013.5" width="3.8" height="43" fill="#000"/>
<rect x="2039.6" y="1053" width="5.4" height="3.8" fill="#000"/>
<rect x="2105.8" y="1053" width="5.2" height="3.8" fill="#000"/>
<polyline points="2041.5,1056.25 2066.5,1078.75" fill="none" stroke="#000" stroke-width="2.7" stroke-linejoin="miter"/>
<polyline points="2109,1056.25 2084,1078.75" fill="none" stroke="#000" stroke-width="2.7" stroke-linejoin="miter"/>
<path d="M2066.5,1078.75 Q2073.5,1071 2075.25,1056.75" fill="none" stroke="#1a1a1a" stroke-width="1"/>
<path d="M2084,1078.75 Q2077,1071 2075.25,1056.75" fill="none" stroke="#1a1a1a" stroke-width="1"/>
<path d="M1929,1013.75 L1929,1022 C1929,1033 1936,1038.6 1945.5,1038.6 C1955,1038.6 1962,1033 1962,1022 L1962,1013.75" fill="#dfeaed" stroke="#222" stroke-width="1"/>
<path d="M1931.5,1021.5 C1931.5,1031.5 1938,1036.5 1945.5,1036.5 C1953,1036.5 1959.5,1031.5 1959.5,1021.5 Z" fill="#dfeaed" stroke="#222" stroke-width="1"/>
<line x1="1945.5" y1="1017" x2="1945.5" y2="1028.5" stroke="#444" stroke-width="2.4"/>
<circle cx="1945.2" cy="1016.8" r="1.8" fill="#fff" stroke="#222" stroke-width="0.8"/>
<circle cx="1945.6" cy="1029" r="1.7" fill="#444" stroke="#222" stroke-width="0.8"/>
<line x1="1945.5" y1="1018" x2="1950" y2="1024" stroke="#444" stroke-width="1.6"/>
<text x="2041.75" y="691.7" font-size="19.7" font-weight="bold" text-anchor="middle" fill="#000">Bedroom 3</text>
<text x="2041.75" y="714.7" font-size="19.87" text-anchor="middle" fill="#000">15'4 (4.67) max</text>
<text x="2041.75" y="737.7" font-size="19.87" text-anchor="middle" fill="#000">x 8'8 (2.64) min</text>
<text x="2187.75" y="919.4" font-size="19.7" font-weight="bold" text-anchor="middle" fill="#000">Store</text>
<text x="2187.75" y="942.3" font-size="19.87" text-anchor="middle" fill="#000">13'11 (4.24) max</text>
<text x="2187.75" y="965.2" font-size="19.87" text-anchor="middle" fill="#000">x 6'11 (2.11) max</text>
<text x="2029.75" y="1120" font-size="19.7" font-weight="bold" text-anchor="middle" fill="#000">Bedroom 4</text>
<text x="2029.75" y="1142.6" font-size="19.87" text-anchor="middle" fill="#000">11'5 (3.48)</text>
<text x="2029.75" y="1165.2" font-size="19.87" text-anchor="middle" fill="#000">x 10'7 (3.23)</text>
<text x="1878.5" y="1311.25" font-size="25.5" font-weight="bold" text-anchor="start" fill="#000">FIRST FLOOR</text>
<!-- part_foot -->
<path d="M557.7,1655.2 V1589 A13.6,13.6 0 0 1 571.3,1575.4 H637.4 V1655.2 Z" fill="#676767"/>
<path d="M642.5,1576.4 H795.9 V1639.5 A14.7,14.7 0 0 1 781.2,1654.2 H642.5 Z" fill="#fff" stroke="#676767" stroke-width="2"/>
<circle cx="597.6" cy="1606.5" r="16.4" fill="#fff"/>
<g transform="translate(550,1568) scale(0.11325)" fill="none" stroke="#676767" stroke-width="19" stroke-linejoin="round" stroke-linecap="round">
<path d="M350,240 L362,202 L388,226 L403,195 L421,223 L440,195 L455,226 L480,203 L488,240 Z" fill="#676767" stroke="none"/>
<path d="M374,224 L386,240 L403,217 L421,240 L440,217 L456,240 L470,226" stroke="#fff" stroke-width="9"/>
<path d="M352,252 C395,240 445,240 486,252" stroke-width="15"/>
<path d="M482,264 C507,276 528,298 546,322 L518,338 L542,352 L514,376 C498,392 476,388 460,374" stroke-width="15"/>
<path d="M466,298 L494,308" stroke-width="17"/>
<path d="M408,270 C374,304 362,352 374,406 C380,432 390,452 402,468" stroke-width="20"/>
<path d="M450,280 C424,312 416,354 426,400 C432,428 440,450 452,468" stroke-width="20"/>
<path d="M358,276 C324,310 314,356 326,406 C330,422 336,436 344,446" stroke-width="16"/>
<path d="M460,376 C458,410 468,440 484,460" stroke-width="18"/>
</g>
<text x="597.4" y="1640.5" font-size="16.4" font-weight="bold" text-anchor="middle" fill="#fff" stroke="#fff" stroke-width="0.6" textLength="51" lengthAdjust="spacingAndGlyphs">RICS</text>
<circle cx="625.3" cy="1629.8" r="1.2" fill="none" stroke="#fff" stroke-width="0.5"/>
<text x="655.9" y="1602" font-size="21.4" font-weight="bold" fill="#676767">Certified</text>
<text x="657" y="1623.5" font-size="21.4" font-weight="bold" fill="#676767">Property</text>
<text x="657" y="1644.4" font-size="21.4" font-weight="bold" fill="#676767">Measurer</text>
<text x="813" y="1594.5" font-size="20.5" text-anchor="start" fill="#6d6d6d">Floor plan produced in accordance with RICS Property Measurement Standards incorporating</text>
<text x="813" y="1619" font-size="20.5" text-anchor="start" fill="#6d6d6d">International Property Measurement Standards (IPMS2 Residential).</text>
<text x="1450" y="1619" font-size="20.5" text-anchor="start" fill="#6d6d6d">©</text>
<text x="1469" y="1619" font-size="21.5" text-anchor="start" fill="#6d6d6d" letter-spacing="-0.9">nichecom</text>
<text x="1562" y="1619" font-size="20.5" text-anchor="start" fill="#6d6d6d">2022.</text>
<text x="813" y="1644.2" font-size="20.5" text-anchor="start" fill="#6d6d6d">Produced for Bradleys.</text>
<text x="1039" y="1644.2" font-size="20.5" text-anchor="start" fill="#6d6d6d">REF:</text>
<text x="1092.5" y="1644.6" font-size="20.5" text-anchor="start" fill="#6d6d6d">910531</text>
<rect x="1680.6" y="1570.6" width="163.3" height="89.1" fill="#001a44"/>
<text x="1691.9" y="1621.8" font-size="38" fill="#fff" stroke="#001a44" stroke-width="0.55" textLength="140" lengthAdjust="spacingAndGlyphs">Bradleys</text>
<text y="1637.3" font-size="12.6" fill="#d8c91a" stroke="#001a44" stroke-width="0.3"><tspan x="1694.2" textLength="43.6" lengthAdjust="spacingAndGlyphs">ESTATE</tspan><tspan x="1741.2"> </tspan><tspan x="1745.8" textLength="52.4" lengthAdjust="spacingAndGlyphs">AGENTS</tspan></text>
</svg>
</body></html>
